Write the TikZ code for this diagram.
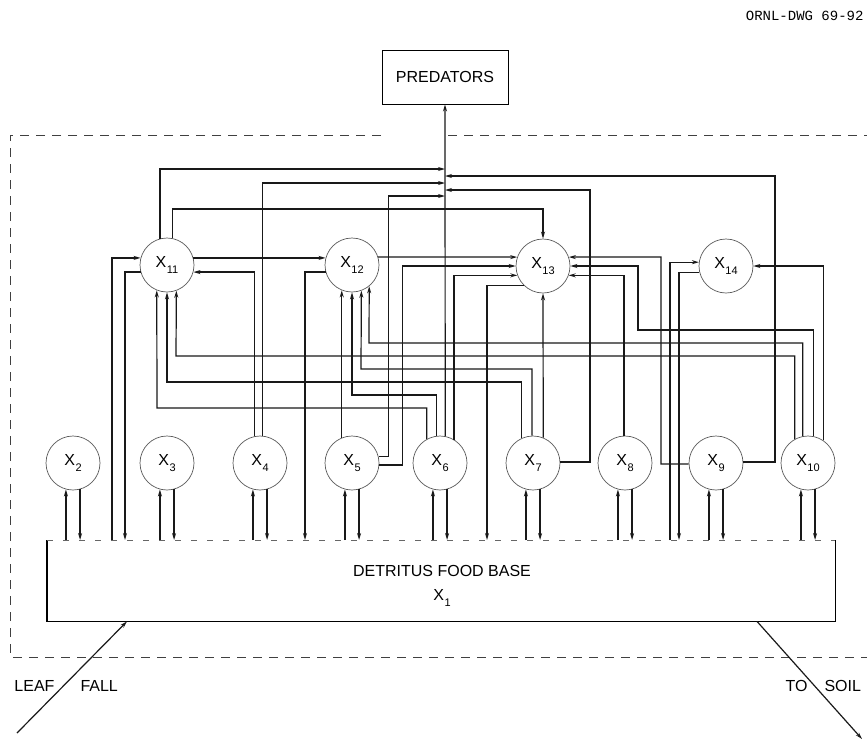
\documentclass[tikz,border=0pt]{standalone}
\usepackage{fontspec}
\setmainfont{Liberation Sans}
\newfontfamily\monofont{Liberation Mono}
\usetikzlibrary{arrows.meta}
\newcommand{\xsub}[1]{X\kern0.5pt\raisebox{-0.42em}{\fontsize{11}{11}\selectfont #1}}
\begin{document}
\begin{tikzpicture}[x=1pt,y=-1pt,
  ln/.style={line width=1.2pt, black!90},
  arr/.style={ln, -{Stealth[length=7pt,width=4pt]}},
  circ/.style={circle, draw=black!65, line width=0.7pt, minimum size=54pt, inner sep=0pt, font=\fontsize{16}{16}\selectfont},
  lab/.style={font=\fontsize{16}{24}\selectfont},
  bound/.style={black!75, line width=0.8pt, dash pattern=on 9pt off 7pt}]
\useasboundingbox (0,0) rectangle (867,739);

% nodes
\node[draw, line width=0.9pt, minimum width=126pt, minimum height=54pt, lab] (P) at (445,77) {PREDATORS};
\node[circ] (X11) at (167,265) {\xsub{11}};
\node[circ] (X12) at (352,265) {\xsub{12}};
\node[circ] (X13) at (543,266) {\xsub{13}};
\node[circ] (X14) at (726,266) {\xsub{14}};
\node[circ] (X2) at (73,463) {\xsub{2}};
\node[circ] (X3) at (167,463) {\xsub{3}};
\node[circ] (X4) at (260,463) {\xsub{4}};
\node[circ] (X5) at (352,463) {\xsub{5}};
\node[circ] (X6) at (440,463) {\xsub{6}};
\node[circ] (X7) at (533,463) {\xsub{7}};
\node[circ] (X8) at (625,463) {\xsub{8}};
\node[circ] (X9) at (716,463) {\xsub{9}};
\node[circ] (X10) at (808,463) {\xsub{10}};
\node[minimum width=788pt, minimum height=81pt, anchor=north west, inner sep=0pt] (D) at (47,540) {};
\node[lab, align=center] (DL) at (442,586) {DETRITUS FOOD BASE\\\xsub{1}};
\node[anchor=north east, font=\monofont\fontsize{14}{14}\selectfont] (dwg) at (867,8) {ORNL-DWG 69-92};
\node[lab, anchor=east] (leaf) at (58,686) {LEAF};
\node[lab, anchor=west] (fall) at (77,686) {FALL};
\node[lab, anchor=east] (to) at (811,686) {TO};
\node[lab, anchor=west] (soil) at (821,686) {SOIL};

% trunk junctions and free ends
\coordinate (J169) at (445,169);
\coordinate (J176) at (445,176);
\coordinate (J183) at (445,183);
\coordinate (J190) at (445,190);
\coordinate (J196) at (445,196);
\coordinate (LF) at (17,733);
\coordinate (TS) at (862,739);

% boundary
\draw[bound] (381,135) -- (10,135) -- (10,657) -- (867,657);
\draw[bound] (448,135) -- (867,135);

% detritus box
\draw[line width=1.2pt] (D.north west) -- (D.south west) -- (D.south east) -- (D.north east);
\draw[black!60, line width=0.6pt, dash pattern=on 6pt off 10pt] (D.north west) -- (D.north east);

% X1 <-> consumers
\foreach \n in {2,...,10} {
  \draw[arr] (X\n.255 |- D.north) -- (X\n.255);
  \draw[arr] (X\n.285) -- (X\n.285 |- D.north);
}

% X11
\draw[arr] ([xshift=65pt]D.north west) |- (X11.165);
\draw[arr] (X11.195) -| ([xshift=78pt]D.north west);
\draw[arr] (X11.105) |- (J169);
\draw[arr] (X11.79) |- (543,209) -- (X13.north);
\draw[arr] (X11.15) -- (X12.165);

% X12
\draw[arr] (X12.195) -| ([xshift=258pt]D.north west);
\draw[arr] (X12.17) -- (X13.161);

% X13
\draw[arr] (X13.225) -| ([xshift=440pt]D.north west);

% X14
\draw[arr] ([xshift=623pt]D.north west) |- (X14.172);
\draw[arr] (X14.193) -| ([xshift=632pt]D.north west);

% X4
\draw[arr] (X4.101) |- (X11.345);
\draw[arr] (X4.84) |- (J183);

% X5
\draw[arr] (X5.112) -- (X12.248);
\draw[arr] (X5.13) -- ++(10,0) |- (J196);
\draw[arr] (X5.356) -- ++(23,0) |- (X13.west);

% X6
\draw[arr] (X6.79) -- (P.south);
\draw[arr] (X6.119) |- (157,408) -- (X11.248);
\draw[arr] (X6.98) |- (352,395) -- (X12.south);
\draw[arr] (X6.59) |- (X13.200);

% X7
\draw[arr] (X7.68) -- (X13.south);
\draw[arr] (X7.92) |- (361,369) -- (X12.290);
\draw[arr] (X7.114) |- (167,382) -- (X11.south);
\draw[arr] (X7.2) -| (590,190) -- (J190);

% X8
\draw[arr] (X8.92) |- (X13.340);

% X9
\draw[arr] (X9.182) -| (661,257) -- (X13.19);
\draw[arr] (X9.2) -| (775,176) -- (J176);

% X10
\draw[arr] (X10.119) |- (176,356) -- (X11.290);
\draw[arr] (X10.101) |- (369,343) -- (X12.309);
\draw[arr] (X10.79) |- (638,330) |- (X13.east);
\draw[arr] (X10.56) |- (X14.east);

% leaf fall / to soil
\draw[arr] (LF) -- ([xshift=80pt]D.south west);
\draw[arr] ([xshift=710pt]D.south west) -- (TS);
\end{tikzpicture}
\end{document}
